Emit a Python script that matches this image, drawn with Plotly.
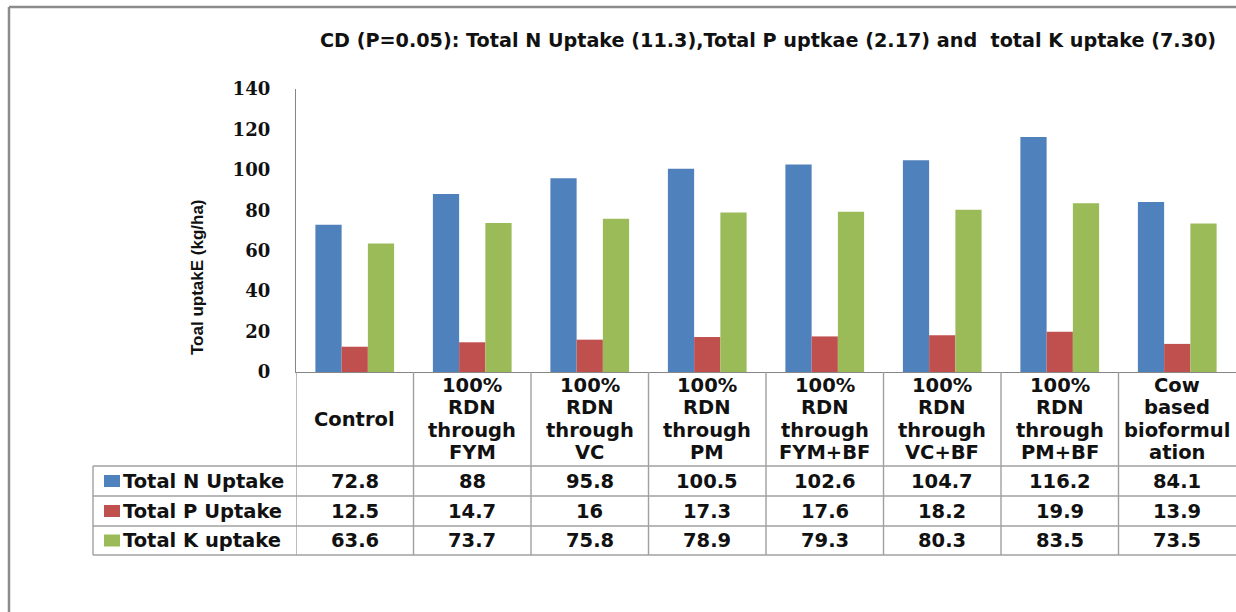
import plotly.graph_objects as go

# ---------------- data ----------------
categories = ["Control", "100% RDN through FYM", "100% RDN through VC", "100% RDN through PM",
              "100% RDN through FYM+BF", "100% RDN through VC+BF", "100% RDN through PM+BF",
              "Cow based bioformulation"]
header_lines = [["Control"], ["100%", "RDN", "through", "FYM"], ["100%", "RDN", "through", "VC"],
                ["100%", "RDN", "through", "PM"], ["100%", "RDN", "through", "FYM+BF"],
                ["100%", "RDN", "through", "VC+BF"], ["100%", "RDN", "through", "PM+BF"],
                ["Cow", "based", "bioformul", "ation"]]
series_names = ["Total N Uptake", "Total P Uptake", "Total K uptake"]
n_uptake = [72.8, 88, 95.8, 100.5, 102.6, 104.7, 116.2, 84.1]
p_uptake = [12.5, 14.7, 16, 17.3, 17.6, 18.2, 19.9, 13.9]
k_uptake = [63.6, 73.7, 75.8, 78.9, 79.3, 80.3, 83.5, 73.5]
series_values = [n_uptake, p_uptake, k_uptake]
colors = ["#4F81BD", "#C0504D", "#9BBB59"]
y_ticks = [0, 20, 40, 60, 80, 100, 120, 140]
title_text = "CD (P=0.05): Total N Uptake (11.3),Total P uptkae (2.17) and\u00a0 total K uptake (7.30)"
y_title = "Toal uptakE (kg/ha)"

# ---------------- layout geometry (window pixels) ----------------
W, H = 1236, 612
ML, MT = 296, 89
PLOT_BOTTOM = 372
MR, MB = 0, H - PLOT_BOTTOM
PW, PH = W - ML - MR, H - MT - MB


def px_x(px):
    return (px - ML) / PW


def px_y(py):
    return (PLOT_BOTTOM - py) / PH


fig = go.Figure()
for name, vals, col in zip(series_names, series_values, colors):
    fig.add_trace(go.Bar(x=categories, y=vals, name=name, marker_color=col,
                         marker_line_width=0, showlegend=False))

grid_col = "#A0A0A0"
txt_col = "#111111"
tfont = dict(family="DejaVu Sans", size=19.5, color=txt_col, weight="bold")

shapes = []
annotations = []

# frame of the picture
shapes.append(dict(type="line", xref="paper", yref="paper", x0=px_x(9), x1=px_x(1240),
                   y0=px_y(7), y1=px_y(7), line=dict(color="#8C8C8C", width=2.5)))
shapes.append(dict(type="line", xref="paper", yref="paper", x0=px_x(9), x1=px_x(9),
                   y0=px_y(7), y1=px_y(620), line=dict(color="#8C8C8C", width=2.5)))

# data table grid
row_edges = [466, 496, 526, 555]
for ry in row_edges:
    shapes.append(dict(type="line", xref="paper", yref="paper", x0=px_x(93), x1=1.01,
                       y0=px_y(ry), y1=px_y(ry), line=dict(color=grid_col, width=1.4)))
shapes.append(dict(type="line", xref="paper", yref="paper", x0=px_x(93), x1=px_x(93),
                   y0=px_y(466), y1=px_y(555), line=dict(color=grid_col, width=1.4)))
for k in range(len(categories)):
    shapes.append(dict(type="line", xref="x", yref="paper", x0=k - 0.5, x1=k - 0.5,
                       y0=0, y1=px_y(555), line=dict(color=grid_col, width=1.4)))

# header labels (one annotation per line)
line_pitch = 22.4
for i, lines in enumerate(header_lines):
    n = len(lines)
    first = 419 - line_pitch * (n - 1) / 2
    for j, ln in enumerate(lines):
        annotations.append(dict(x=i, xref="x", y=px_y(first + j * line_pitch), yref="paper",
                                text=ln, showarrow=False, xanchor="center", yanchor="middle",
                                font=tfont))

# rows
row_centers = [481, 511, 540.5]
for r, (name, vals, col) in enumerate(zip(series_names, series_values, colors)):
    cy = row_centers[r]
    shapes.append(dict(type="rect", xref="paper", yref="paper", x0=px_x(104), x1=px_x(120),
                       y0=px_y(cy - 6), y1=px_y(cy + 6), fillcolor=col, line=dict(width=0)))
    annotations.append(dict(x=px_x(121), xref="paper", y=px_y(cy), yref="paper", text=name,
                            showarrow=False, xanchor="left", yanchor="middle", font=tfont))
    for i, v in enumerate(vals):
        annotations.append(dict(x=i, xref="x", y=px_y(cy), yref="paper", text=f"{v:g}",
                                showarrow=False, xanchor="center", yanchor="middle", font=tfont))

# title
annotations.append(dict(x=px_x(768), xref="paper", y=px_y(40), yref="paper", text=title_text,
                        showarrow=False, xanchor="center", yanchor="middle",
                        font=dict(family="DejaVu Sans", size=19.2, color=txt_col, weight="bold")))
# y axis title
annotations.append(dict(x=px_x(197), xref="paper", y=px_y(277), yref="paper", text=y_title,
                        showarrow=False, xanchor="center", yanchor="middle", textangle=-90,
                        font=dict(family="Liberation Sans Narrow, Arial Narrow, Liberation Sans",
                                  size=17, color=txt_col, weight="bold")))

fig.update_layout(
    width=W, height=H,
    margin=dict(l=ML, r=MR, t=MT, b=MB, pad=0),
    paper_bgcolor="white", plot_bgcolor="white",
    barmode="group", bargap=0.33, bargroupgap=0,
    shapes=shapes, annotations=annotations,
    xaxis=dict(type="category", range=[-0.5, len(categories) - 0.5], showticklabels=False,
               showline=True, linecolor="#868686", linewidth=1.4, showgrid=False, ticks="",
               zeroline=False, fixedrange=True),
    yaxis=dict(range=[0, 140], tickvals=y_ticks, showline=True, linecolor="#868686",
               linewidth=1.4, showgrid=False, zeroline=False, ticks="", ticklabelstandoff=21,
               tickfont=dict(family="DejaVu Serif", size=18, color=txt_col, weight="bold"),
               fixedrange=True),
)

fig.write_html("out.html", config={"displayModeBar": False},
               post_script="document.body.style.margin='0';document.body.style.overflow='hidden';")
